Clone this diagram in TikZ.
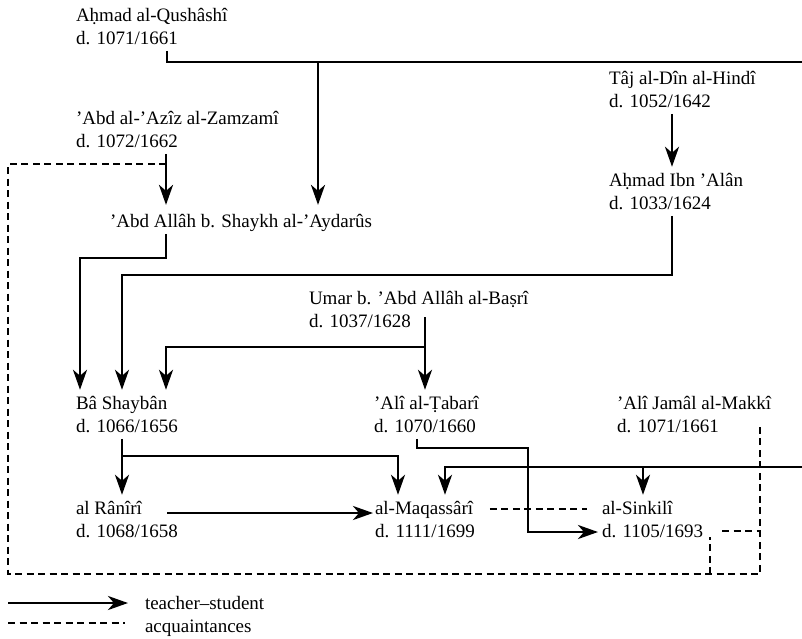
\documentclass[tikz,border=0pt]{standalone}
\usepackage{fontspec}
\setmainfont{Liberation Serif}
\usetikzlibrary{arrows.meta}

\begin{document}
\begin{tikzpicture}[x=1pt, y=-1pt, >={Stealth[length=20pt, width=14pt, inset=6pt]},
    person/.style={anchor=base west, align=left, inner sep=0pt, outer sep=0pt,
        font=\fontsize{19}{23}\selectfont,
        execute at begin node=\strut, execute at end node=\strut},
    solid/.style={line width=2.8pt},
    teach/.style={solid, ->, shorten >=6pt},
    acq/.style={line width=2.8pt, dash pattern=on 7pt off 4.5pt}]
    \useasboundingbox (0,0) rectangle (802,638);

    % base = last line
    \node[person] (qush) at (76,44) {Aḥmad al-Qushâshî\\d. 1071/1661};
    \node[person] (zamz) at (76,147) {’Abd al-’Azîz al-Zamzamî\\d. 1072/1662};
    \node[person] (ayd) at (110,227) {’Abd Allâh b. Shaykh al-’Aydarûs};
    \node[person] (taj) at (609,107) {Tâj al-Dîn al-Hindî\\d. 1052/1642};
    \node[person] (alan) at (609,209) {Aḥmad Ibn ’Alân\\d. 1033/1624};
    \node[person] (umar) at (309,327) {Umar b. ’Abd Allâh al-Baṣrî\\d. 1037/1628};
    \node[person] (bash) at (76,432) {Bâ Shaybân\\d. 1066/1656};
    \node[person] (tab) at (374,432) {’Alî al-Ṭabarî\\d. 1070/1660};
    \node[person] (makk) at (617,432) {’Alî Jamâl al-Makkî\\d. 1071/1661};
    \node[person] (ranir) at (76,537) {al Rânîrî\\d. 1068/1658};
    \node[person] (maqa) at (375,537) {al-Maqassârî\\d. 1111/1699};
    \node[person] (sink) at (602,537) {al-Sinkilî\\d. 1105/1693};

    \coordinate (edgeN) at (802,62);
    \coordinate (edgeS) at (802,467);

    % teacher--student
    \draw[solid] (167,0 |- qush.south) |- (edgeN);
    \draw[teach] (318,62) -- (318,0 |- ayd.north);
    \draw[teach] (166,0 |- zamz.south) -- (166,0 |- ayd.north);
    \draw[teach] (672,0 |- taj.south) -- (672,0 |- alan.north);
    \draw[teach] (672,0 |- alan.south) |- (122,275) -- (122,0 |- bash.north);
    \draw[teach] (166,0 |- ayd.south) |- (80,258) -- (80,0 |- bash.north);
    \draw[teach] (425,317) -- (425,0 |- tab.north);
    \draw[teach] (425,347) -| (166,0 |- bash.north);
    \draw[teach] (122,0 |- bash.south) -- (122,0 |- ranir.north);
    \draw[teach] (122,456) -| (398,0 |- maqa.north);
    \draw[teach, shorten >=2pt] (167,513) -- (maqa.west |- 0,513);
    \draw[teach] (edgeS) -| (445,0 |- maqa.north);
    \draw[teach] (643,467) -- (643,0 |- sink.north);
    \draw[teach, shorten >=4pt] (417,0 |- tab.south) |- (528,448) |- (sink.west |- 0,532);

    % acquaintances
    \draw[acq, shorten <=15pt, shorten >=15pt] (maqa.east |- 0,509) -- (sink.west |- 0,509);
    \draw[acq] (166,164) -| (8,574) -| (760,424);
    \draw[acq] (710,574) -- (710,537);
    \draw[acq] (722,531) -- (760,531);

    % legend
    \node[person] (legT) at (145,609) {teacher–student};
    \node[person] (legA) at (145,632) {acquaintances};
    \draw[teach, shorten >=17pt] (8,603) -- (legT.west |- 0,603);
    \draw[acq] (8,623) -- (125,623);
\end{tikzpicture}
\end{document}
